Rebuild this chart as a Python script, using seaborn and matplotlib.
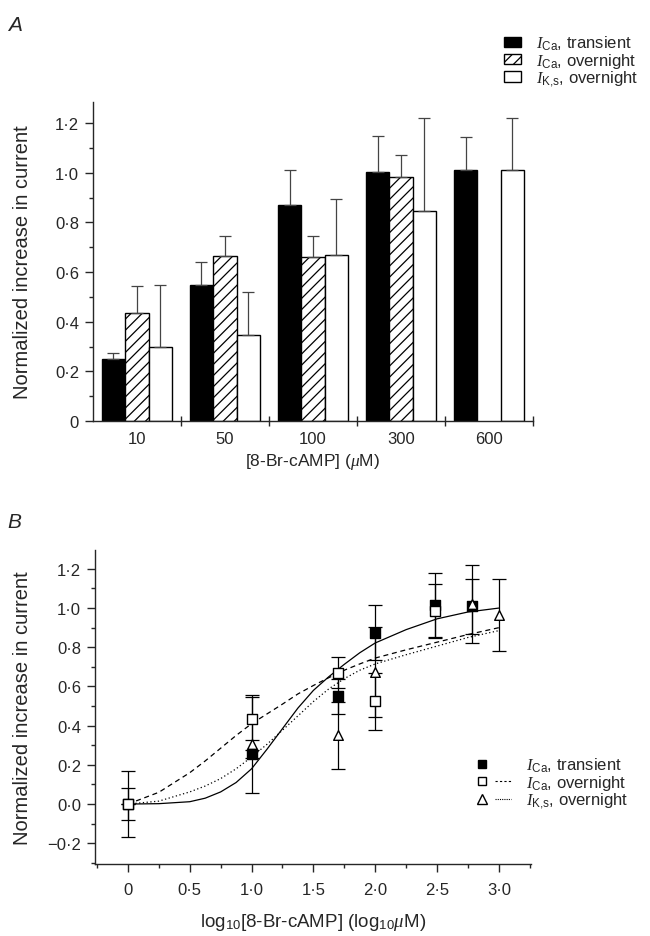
import numpy as np
import pandas as pd
import matplotlib
matplotlib.use('Agg')
import matplotlib.pyplot as plt
import seaborn as sns
from matplotlib.lines import Line2D
from matplotlib.patches import Patch
from matplotlib.legend_handler import HandlerTuple
from matplotlib.ticker import FixedLocator, FixedFormatter

# ---------------- panel A data (bar chart) ----------------
conc_labels = ['10', '50', '100', '300', '600']
series_labels = [r'$I_{\mathrm{Ca}}$, transient',
                 r'$I_{\mathrm{Ca}}$, overnight',
                 r'$I_{\mathrm{K{,}s}}$, overnight']
ica_transient = [0.25, 0.55, 0.87, 1.005, 1.01]
ica_transient_err = [0.025, 0.09, 0.14, 0.145, 0.135]
ica_overnight = [0.435, 0.665, 0.66, 0.985, np.nan]
ica_overnight_err = [0.11, 0.08, 0.085, 0.085, np.nan]
iks_overnight = [0.30, 0.345, 0.67, 0.845, 1.01]
iks_overnight_err = [0.25, 0.175, 0.225, 0.375, 0.21]

a_yticks = [0, 0.2, 0.4, 0.6, 0.8, 1.0, 1.2]
a_yticklabels = ['0', '0·2', '0·4', '0·6', '0·8', '1·0', '1·2']

# ---------------- panel B data (dose-response) ----------------
logc_transient = [0, 1.0, 1.7, 2.0, 2.48, 2.78]
resp_transient = [0, 0.255, 0.55, 0.875, 1.015, 1.01]
resp_transient_err = [0.08, 0.02, 0.09, 0.14, 0.165, 0.14]

logc_overnight = [0, 1.0, 1.7, 2.0, 2.48]
resp_overnight = [0, 0.435, 0.67, 0.525, 0.985]
resp_overnight_err = [0.17, 0.11, 0.08, 0.145, 0.14]

logc_iks = [0, 1.0, 1.7, 2.0, 2.78, 3.0]
resp_iks = [0, 0.305, 0.35, 0.675, 1.02, 0.965]
resp_iks_err = [0.0, 0.25, 0.17, 0.23, 0.2, 0.185]

# fitted curves
fit_x = [0, 0.25, 0.5, 0.625, 0.75, 0.875, 1.0, 1.125, 1.25, 1.375, 1.5,
         1.625, 1.75, 1.875, 2.0, 2.25, 2.5, 2.75, 3.0]
fit_transient = [0, 0.002, 0.012, 0.03, 0.062, 0.11, 0.18, 0.28, 0.385, 0.49, 0.58,
                 0.65, 0.713, 0.772, 0.822, 0.89, 0.945, 0.98, 1.0]
fit_overnight = [0, 0.06, 0.16, 0.22, 0.285, 0.35, 0.41, 0.46, 0.51, 0.562, 0.605,
                 0.645, 0.683, 0.715, 0.745, 0.787, 0.826, 0.865, 0.90]
fit_iks = [0, 0.015, 0.062, 0.092, 0.13, 0.18, 0.24, 0.305, 0.377, 0.45, 0.523,
           0.588, 0.64, 0.683, 0.715, 0.762, 0.806, 0.85, 0.885]

b_xticks = [0, 0.5, 1.0, 1.5, 2.0, 2.5, 3.0]
b_xticklabels = ['0', '0·5', '1·0', '1·5', '2·0', '2·5', '3·0']
b_yticks = [-0.2, 0, 0.2, 0.4, 0.6, 0.8, 1.0, 1.2]
b_yticklabels = ['\u22120·2', '0·0', '0·2', '0·4', '0·6', '0·8', '1·0', '1·2']

# ---------------- style ----------------
sns.set_style('ticks')
plt.rcParams['font.family'] = ['Liberation Sans', 'DejaVu Sans']
plt.rcParams['mathtext.fontset'] = 'custom'
plt.rcParams['mathtext.rm'] = 'Liberation Sans'
plt.rcParams['mathtext.it'] = 'Liberation Serif:italic'
plt.rcParams['hatch.linewidth'] = 0.9
plt.rcParams['axes.linewidth'] = 1.0

fig = plt.figure(figsize=(6.5, 9.37), dpi=100)

# ================= panel A =================
axA = fig.add_axes([0.143, 0.5496, 0.677, 0.3404])

dfA = pd.DataFrame({
    'conc': conc_labels * 3,
    'series': [series_labels[0]] * 5 + [series_labels[1]] * 5 + [series_labels[2]] * 5,
    'value': ica_transient + ica_overnight + iks_overnight,
})
sns.barplot(data=dfA, x='conc', y='value', hue='series', order=conc_labels,
            hue_order=series_labels, palette=['black', 'white', 'white'],
            width=0.8, errorbar=None, edgecolor='black', linewidth=1.0,
            legend=False, ax=axA)

# hatch the overnight I_Ca bars, add upper error bars
errs = [ica_transient_err, ica_overnight_err, iks_overnight_err]
bar_containers = list(axA.containers)
for k, cont in enumerate(bar_containers):
    for p in cont.patches:
        xc = p.get_x() + p.get_width() / 2
        h = p.get_height()
        if not np.isfinite(h) or h == 0:
            continue
        grp = int(round(xc))
        if k == 1:
            p.set_hatch('///')
        axA.errorbar([xc], [h], yerr=[[0], [errs[k][grp]]], fmt='none',
                     ecolor='#444444', elinewidth=0.9, capsize=4,
                     capthick=0.9, zorder=1)

axA.set_xlim(-0.5, 4.5)
axA.set_ylim(0, 1.285)
axA.yaxis.set_major_locator(FixedLocator(a_yticks))
axA.yaxis.set_major_formatter(FixedFormatter(a_yticklabels))
axA.yaxis.set_minor_locator(FixedLocator(np.arange(0.1, 1.25, 0.2)))
axA.xaxis.set_minor_locator(FixedLocator([0.5, 1.5, 2.5, 3.5, 4.5]))
axA.tick_params(axis='x', which='major', length=0, labelsize=12, pad=7)
axA.tick_params(axis='x', which='minor', length=7, direction='inout', width=1)
axA.tick_params(axis='y', which='major', length=6, width=1, labelsize=12, pad=4)
axA.tick_params(axis='y', which='minor', length=3, width=1)
axA.set_xlabel(r'[8-Br-cAMP] ($\mu$M)', fontsize=12.5, va='top')
axA.xaxis.set_label_coords(0.5, -0.095)
axA.set_ylabel('Normalized increase in current', fontsize=14.5)
axA.yaxis.set_label_coords(-0.138, 0.5)
sns.despine(ax=axA)

leg_handles = [Patch(facecolor='black', edgecolor='black'),
               Patch(facecolor='white', edgecolor='black', hatch='///'),
               Patch(facecolor='white', edgecolor='black')]
fig.legend(leg_handles, series_labels, loc='upper left',
           bbox_to_anchor=(0.763, 0.972), frameon=False, fontsize=12,
           handlelength=1.0, handleheight=0.55, handletextpad=0.9,
           labelspacing=-0.08, borderpad=0)

fig.text(0.012, 0.983, 'A', fontsize=15, style='italic', va='top')

# ================= panel B =================
axB = fig.add_axes([0.146, 0.0768, 0.671, 0.3351])

sns.lineplot(x=fit_x, y=fit_transient, color='black', lw=0.9, ls='-', ax=axB)
sns.lineplot(x=fit_x, y=fit_overnight, color='black', lw=0.9, ls=(0, (4, 3)), ax=axB)
sns.lineplot(x=fit_x, y=fit_iks, color='black', lw=0.9, ls=(0, (1, 2)), ax=axB)

groups = [
    (logc_transient, resp_transient, resp_transient_err, 's', 'black'),
    (logc_iks, resp_iks, resp_iks_err, '^', 'white'),
    (logc_overnight, resp_overnight, resp_overnight_err, 's', 'white'),
]
for x, y, e, m, fc in groups:
    axB.errorbar(x, y, yerr=e, fmt='none', ecolor='black', elinewidth=0.9,
                 capsize=5, capthick=0.9, zorder=2)
for x, y, e, m, fc in groups:
    sns.scatterplot(x=x, y=y, marker=m, s=48, color=fc, edgecolor='black',
                    linewidth=1.0, zorder=3, ax=axB)

axB.set_xlim(-0.267, 3.26)
axB.set_ylim(-0.306, 1.296)
axB.xaxis.set_major_locator(FixedLocator(b_xticks))
axB.xaxis.set_major_formatter(FixedFormatter(b_xticklabels))
axB.xaxis.set_minor_locator(FixedLocator(np.arange(-0.25, 3.3, 0.5)))
axB.yaxis.set_major_locator(FixedLocator(b_yticks))
axB.yaxis.set_major_formatter(FixedFormatter(b_yticklabels))
axB.yaxis.set_minor_locator(FixedLocator(np.arange(-0.3, 1.3, 0.2)))
axB.tick_params(which='major', length=6, width=1, labelsize=12, pad=4)
axB.tick_params(which='minor', length=3, width=1)
axB.tick_params(axis='x', which='major', pad=7)
axB.set_xlabel(r'log$_{10}$[8-Br-cAMP] (log$_{10}$$\mu$M)', fontsize=13.5, va='top')
axB.xaxis.set_label_coords(0.5, -0.148)
axB.set_ylabel('Normalized increase in current', fontsize=14.5)
axB.yaxis.set_label_coords(-0.144, 0.5)
sns.despine(ax=axB)

mk_t = Line2D([], [], marker='s', ls='none', mfc='black', mec='black', ms=6)
mk_o = Line2D([], [], marker='s', ls='none', mfc='white', mec='black', ms=6)
mk_k = Line2D([], [], marker='^', ls='none', mfc='white', mec='black', ms=7)
ln_none = Line2D([], [], ls='none')
ln_o = Line2D([], [], color='black', lw=0.8, ls=(0, (2, 2)))
ln_k = Line2D([], [], color='black', lw=0.8, ls=(0, (1, 1)))
axB.legend([(mk_t, ln_none), (mk_o, ln_o), (mk_k, ln_k)], series_labels,
           handler_map={tuple: HandlerTuple(ndivide=None, pad=0.3)},
           loc='upper left', bbox_to_anchor=(0.851, 0.372), frameon=False,
           fontsize=12, handlelength=2.2, handletextpad=0.9,
           labelspacing=-0.08, borderpad=0)

fig.text(0.012, 0.452, 'B', fontsize=15, style='italic', va='top')

fig.savefig('out.png', dpi=100)
